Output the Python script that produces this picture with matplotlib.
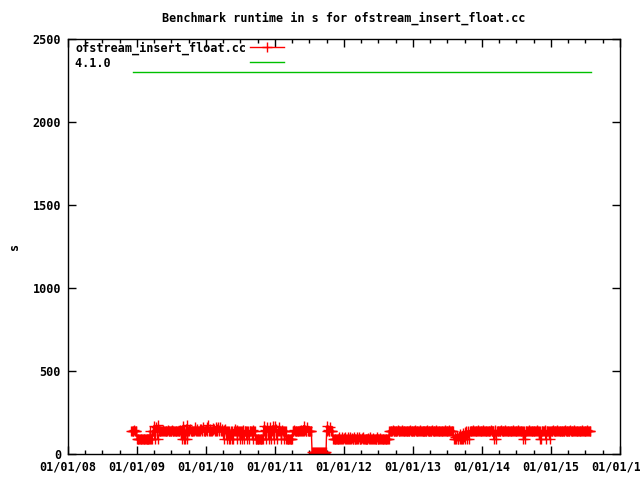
import matplotlib
matplotlib.use("Agg")
import matplotlib.pyplot as plt
import matplotlib.dates as mdates
import pandas as pd

# --- data ---
run_months = [
    "2008-12",
    "2009-01", "2009-02", "2009-03", "2009-04", "2009-05", "2009-06",
    "2009-07", "2009-08", "2009-09", "2009-10", "2009-11", "2009-12",
    "2010-01", "2010-02", "2010-03", "2010-04", "2010-05", "2010-06",
    "2010-07", "2010-08", "2010-09", "2010-10", "2010-11", "2010-12",
    "2011-01", "2011-02", "2011-03", "2011-04", "2011-05", "2011-06",
    "2011-07", "2011-08", "2011-09", "2011-10", "2011-11", "2011-12",
    "2012-01", "2012-02", "2012-03", "2012-04", "2012-05", "2012-06",
    "2012-07", "2012-08", "2012-09", "2012-10", "2012-11", "2012-12",
    "2013-01", "2013-02", "2013-03", "2013-04", "2013-05", "2013-06",
    "2013-07", "2013-08", "2013-09", "2013-10", "2013-11", "2013-12",
    "2014-01", "2014-02", "2014-03", "2014-04", "2014-05", "2014-06",
    "2014-07", "2014-08", "2014-09", "2014-10", "2014-11", "2014-12",
    "2015-01", "2015-02", "2015-03", "2015-04", "2015-05", "2015-06",
    "2015-07",
]
run_days = [1, 4, 8, 12, 16, 20, 24, 28]
# runtime (s) of each run, eight runs per month
run_values = [
    [140, 141, 139, 140, 142, 140, 138, 141],   # 2008-12
    [90, 91, 89, 90, 92, 90, 88, 91],
    [90, 91, 89, 90, 92, 90, 88, 91],
    [90, 91, 89, 140, 92, 90, 140, 141],
    [170, 90, 140, 160, 140, 90, 175, 140],
    [140, 141, 139, 140, 142, 140, 138, 141],
    [141, 139, 140, 142, 140, 138, 141, 140],
    [140, 142, 140, 138, 141, 140, 139, 141],
    [140, 141, 139, 140, 142, 140, 90, 141],
    [170, 90, 140, 88, 140, 175, 90, 140],
    [140, 145, 150, 138, 140, 141, 139, 140],
    [142, 160, 140, 148, 140, 141, 139, 150],
    [140, 150, 145, 138, 160, 140, 138, 141],
    [145, 160, 140, 175, 140, 150, 138, 141],   # 2010-01
    [140, 155, 142, 150, 140, 165, 139, 140],
    [150, 165, 140, 145, 160, 140, 150, 141],
    [140, 90, 142, 150, 140, 92, 138, 141],
    [90, 140, 92, 140, 90, 141, 92, 140],
    [140, 150, 138, 145, 90, 140, 141, 139],
    [90, 140, 88, 140, 142, 90, 140, 141],
    [140, 92, 140, 140, 90, 141, 139, 140],
    [138, 90, 142, 140, 141, 92, 90, 91],
    [90, 88, 92, 90, 91, 89, 90, 92],
    [140, 170, 142, 90, 140, 165, 141, 92],
    [140, 165, 90, 140, 141, 170, 139, 90],
    [170, 140, 150, 92, 140, 141, 165, 140],    # 2011-01
    [140, 90, 142, 140, 141, 92, 140, 139],
    [90, 88, 92, 90, 91, 89, 90, 92],
    [90, 140, 138, 142, 140, 141, 139, 140],
    [140, 141, 139, 140, 142, 140, 138, 141],
    [170, 140, 142, 140, 141, 165, 140, 139],
    [140, 138, 141, 140, 10, 12, 8, 10],
    [10, 8, 12, 10, 11, 9, 10, 12],
    [10, 12, 8, 10, 11, 9, 10, 12],
    [140, 170, 145, 140, 141, 165, 139, 140],
    [140, 90, 92, 88, 90, 91, 89, 90],
    [90, 100, 88, 92, 90, 105, 89, 91],
    [95, 90, 105, 88, 90, 100, 91, 89],         # 2012-01
    [92, 100, 90, 95, 89, 91, 104, 90],
    [88, 92, 105, 90, 91, 100, 89, 90],
    [90, 95, 88, 100, 91, 89, 92, 90],
    [92, 90, 95, 88, 104, 90, 91, 89],
    [90, 98, 92, 90, 91, 89, 100, 90],
    [88, 92, 90, 95, 90, 91, 89, 92],
    [90, 88, 92, 90, 91, 89, 90, 140],
    [140, 141, 139, 140, 142, 140, 138, 141],
    [141, 139, 140, 142, 140, 138, 141, 140],
    [140, 142, 140, 138, 141, 140, 139, 141],
    [140, 141, 139, 140, 142, 140, 138, 141],
    [141, 139, 140, 142, 140, 138, 141, 140],   # 2013-01
    [140, 142, 140, 138, 141, 140, 139, 141],
    [140, 141, 139, 140, 142, 140, 138, 141],
    [141, 139, 140, 142, 140, 138, 141, 140],
    [140, 142, 140, 138, 141, 140, 139, 141],
    [140, 141, 139, 140, 142, 140, 138, 141],
    [141, 139, 140, 142, 140, 138, 141, 140],
    [140, 90, 92, 100, 88, 110, 90, 92],
    [110, 90, 120, 92, 88, 125, 90, 100],
    [130, 90, 140, 92, 135, 140, 90, 141],
    [140, 141, 139, 140, 142, 140, 138, 141],
    [141, 139, 140, 142, 140, 138, 141, 140],
    [140, 142, 140, 138, 141, 140, 139, 141],   # 2014-01
    [140, 141, 139, 140, 142, 140, 138, 141],
    [140, 90, 140, 142, 92, 140, 141, 139],
    [141, 139, 140, 142, 140, 138, 141, 140],
    [140, 142, 140, 138, 141, 140, 139, 141],
    [140, 141, 139, 140, 142, 140, 138, 141],
    [141, 139, 140, 142, 140, 138, 141, 140],
    [140, 140, 90, 140, 92, 141, 139, 140],
    [140, 142, 140, 138, 141, 140, 139, 141],
    [140, 141, 139, 140, 142, 140, 138, 141],
    [90, 140, 92, 140, 141, 139, 140, 142],
    [140, 90, 140, 140, 141, 139, 92, 140],
    [141, 139, 140, 142, 140, 138, 141, 140],   # 2015-01
    [140, 142, 140, 138, 141, 140, 139, 141],
    [140, 141, 139, 140, 142, 140, 138, 141],
    [141, 139, 140, 142, 140, 138, 141, 140],
    [140, 142, 140, 138, 141, 140, 139, 141],
    [140, 141, 139, 140, 142, 140, 138, 141],
    [141, 139, 140, 142, 140, 138, 141, 140],
]
ref_dates = ["2008-12-10", "2015-08-01"]
ref_values = [2300, 2300]

series_label = "ofstream_insert_float.cc"
ref_label = "4.1.0"
title = "Benchmark runtime in s for ofstream_insert_float.cc"

# --- build table ---
rows = []
for m, vals in zip(run_months, run_values):
    for d, v in zip(run_days, vals):
        rows.append((pd.Timestamp(f"{m}-{d:02d}"), v))
df = pd.DataFrame(rows, columns=["date", "value"])

# --- plot ---
plt.rcParams["font.family"] = "DejaVu Sans Mono"
plt.rcParams["font.weight"] = "bold"
plt.rcParams["font.size"] = 8.5

fig = plt.figure(figsize=(6.4, 4.8), dpi=100)
ax = fig.add_axes([68 / 640, 1 - 454 / 480, (620 - 68) / 640, (454 - 39) / 480])

width = max(len(series_label), len(ref_label))
ax.plot(df["date"], df["value"], color="#ff0000", lw=1, marker="+", ms=6.5, mew=1,
        label=series_label.ljust(width))
ax.plot(pd.to_datetime(ref_dates), ref_values, color="#00c000", lw=1,
        label=ref_label.ljust(width))

ax.set_xlim(pd.Timestamp("2008-01-01"), pd.Timestamp("2016-01-01"))
ax.set_ylim(0, 2500)
ax.set_yticks([0, 500, 1000, 1500, 2000, 2500])
ax.xaxis.set_major_locator(mdates.YearLocator())
ax.xaxis.set_minor_locator(mdates.MonthLocator(bymonth=(1, 4, 7, 10)))
ax.xaxis.set_major_formatter(mdates.DateFormatter("%m/%d/%y"))

ax.tick_params(which="both", direction="in", top=True, right=True, width=1,
               colors="black", labelsize=8.5)
ax.tick_params(which="major", length=6, pad=5)
ax.tick_params(which="minor", length=3)
for s in ax.spines.values():
    s.set_linewidth(1)

ax.set_ylabel("s", fontsize=8.5, fontweight="bold", labelpad=8)
fig.text(344 / 640, 1 - 18 / 480, title, ha="center", va="center",
         fontsize=8.5, fontweight="bold")

leg = ax.legend(loc="upper left", bbox_to_anchor=(5 / 552, 1.0), frameon=False,
                markerfirst=False, handlelength=2.8, handletextpad=0.35,
                labelspacing=0.15, borderaxespad=0.0, borderpad=0.2,
                fontsize=8.5)

fig.savefig("out.png", dpi=100)
